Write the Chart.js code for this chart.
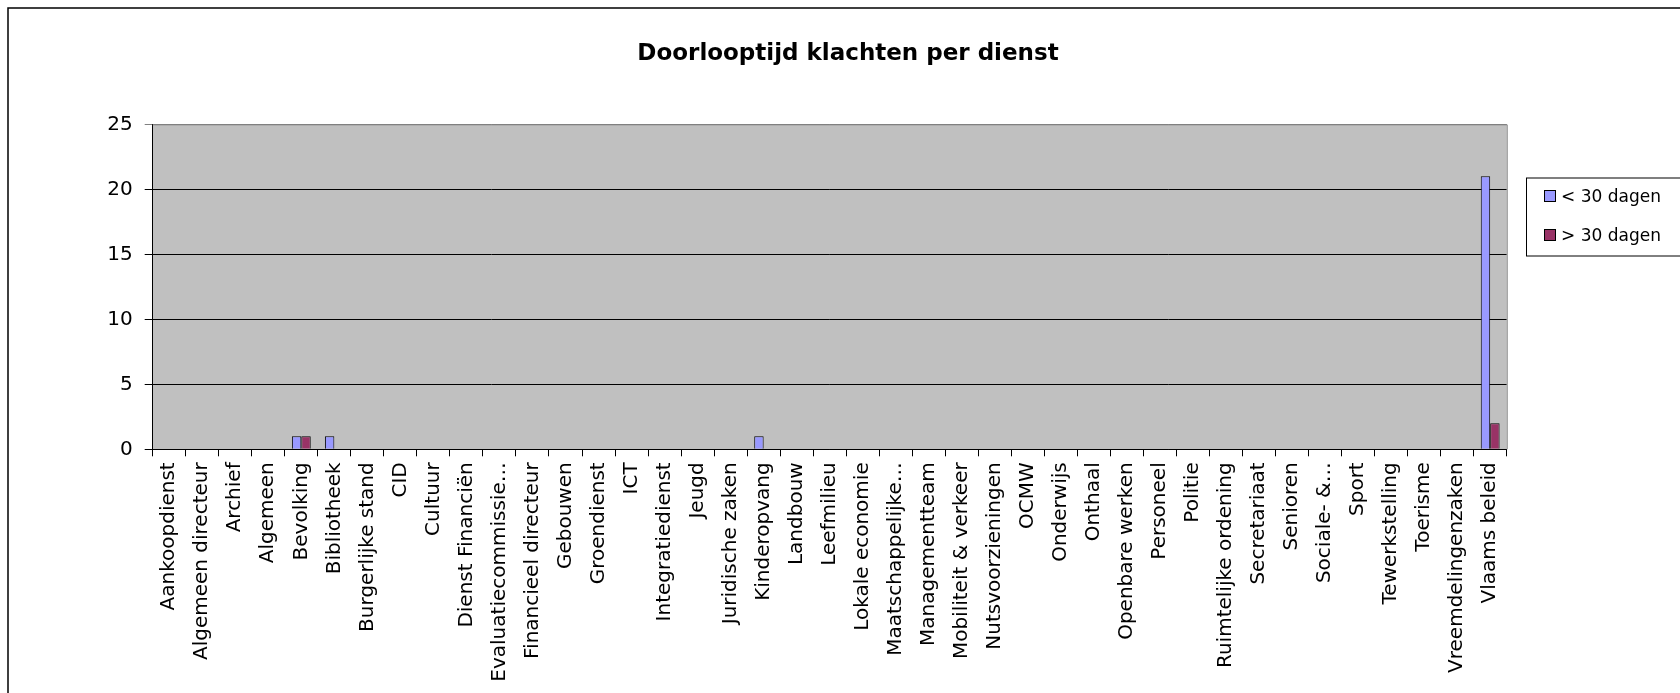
<!DOCTYPE html>
<html>
<head>
<meta charset="utf-8">
<script src="https://cdn.jsdelivr.net/npm/chart.js@4.4.0/dist/chart.umd.min.js"></script>
<style>
  html, body { margin: 0; padding: 0; background: #ffffff; }
  #wrap { width: 1680px; height: 693px; position: relative; }
</style>
</head>
<body>
<div id="wrap"><canvas id="c" width="1680" height="693"></canvas></div>
<script>
const chartTitle = "Doorlooptijd klachten per dienst";
const categories = [
  "Aankoopdienst", "Algemeen directeur", "Archief", "Algemeen", "Bevolking",
  "Bibliotheek", "Burgerlijke stand", "CID", "Cultuur", "Dienst Financiën",
  "Evaluatiecommissie…", "Financieel directeur", "Gebouwen", "Groendienst", "ICT",
  "Integratiedienst", "Jeugd", "Juridische zaken", "Kinderopvang", "Landbouw",
  "Leefmilieu", "Lokale economie", "Maatschappelijke…", "Managementteam", "Mobiliteit & verkeer",
  "Nutsvoorzieningen", "OCMW", "Onderwijs", "Onthaal", "Openbare werken",
  "Personeel", "Politie", "Ruimtelijke ordening", "Secretariaat", "Senioren",
  "Sociale- &…", "Sport", "Tewerkstelling", "Toerisme", "Vreemdelingenzaken",
  "Vlaams beleid"
];
const seriesNames = ["< 30 dagen", "> 30 dagen"];
const under30 = [
  0, 0, 0, 0, 1,
  1, 0, 0, 0, 0,
  0, 0, 0, 0, 0,
  0, 0, 0, 1, 0,
  0, 0, 0, 0, 0,
  0, 0, 0, 0, 0,
  0, 0, 0, 0, 0,
  0, 0, 0, 0, 0,
  21
];
const over30 = [
  0, 0, 0, 0, 1,
  0, 0, 0, 0, 0,
  0, 0, 0, 0, 0,
  0, 0, 0, 0, 0,
  0, 0, 0, 0, 0,
  0, 0, 0, 0, 0,
  0, 0, 0, 0, 0,
  0, 0, 0, 0, 0,
  2
];
const yTicks = [0, 5, 10, 15, 20, 25];

Chart.defaults.font.family = "'DejaVu Sans', 'Noto Sans', sans-serif";
Chart.defaults.color = "#000000";

const decor = {
  id: 'decor',
  beforeDraw(chart) {
    const ctx = chart.ctx, a = chart.chartArea;
    ctx.save();
    ctx.fillStyle = '#ffffff';
    ctx.fillRect(0, 0, chart.width, chart.height);
    // outer chart border (top & left visible)
    ctx.strokeStyle = '#000000';
    ctx.lineWidth = 1.5;
    ctx.strokeRect(8, 8, chart.width + 20, chart.height + 20);
    // plot area background
    ctx.fillStyle = '#C0C0C0';
    ctx.fillRect(a.left, a.top, a.right - a.left, a.bottom - a.top);
    ctx.restore();
  },
  afterDraw(chart) {
    const ctx = chart.ctx, a = chart.chartArea;
    ctx.save();
    // plot area border top/right (gray)
    ctx.strokeStyle = '#808080';
    ctx.lineWidth = 1;
    ctx.beginPath();
    ctx.moveTo(a.left, a.top + 0.5);
    ctx.lineTo(a.right + 0.5, a.top + 0.5);
    ctx.lineTo(a.right + 0.5, a.bottom);
    ctx.stroke();
    // legend box
    const bx = 1526, by = 177.5, bw = 160, bh = 78;
    ctx.strokeStyle = '#000000';
    ctx.lineWidth = 1;
    ctx.strokeRect(bx + 0.5, by + 0.5, bw, bh);
    ctx.font = "17px 'DejaVu Sans', sans-serif";
    ctx.textBaseline = 'middle';
    ctx.textAlign = 'left';
    const rows = [196.5, 235.5];
    chart.data.datasets.forEach((ds, i) => {
      const cy = rows[i];
      ctx.fillStyle = ds.backgroundColor;
      ctx.fillRect(1544.5, cy - 6, 11, 11);
      ctx.strokeStyle = '#000000';
      ctx.strokeRect(1544.5, cy - 6, 11, 11);
      ctx.fillStyle = '#000000';
      ctx.fillText(ds.label, 1561, cy + 1);
    });
    ctx.restore();
  }
};

new Chart(document.getElementById('c'), {
  type: 'bar',
  data: {
    labels: categories,
    datasets: [
      { label: seriesNames[0], data: under30, backgroundColor: '#9999FF', borderColor: '#000000', borderWidth: 1 },
      { label: seriesNames[1], data: over30, backgroundColor: '#993366', borderColor: '#000000', borderWidth: 1 }
    ]
  },
  options: {
    responsive: false,
    animation: false,
    devicePixelRatio: 1,
    layout: { padding: { left: 16, right: 0, top: 0, bottom: 0 } },
    datasets: { bar: { categoryPercentage: 2 / 3.5, barPercentage: 1.0 } },
    plugins: {
      legend: { display: false },
      tooltip: { enabled: false },
      title: {
        display: true,
        text: chartTitle,
        color: '#000000',
        font: { size: 23, weight: 'bold', lineHeight: 1.2 },
        padding: { top: 40, bottom: 56.7 }
      }
    },
    scales: {
      x: {
        offset: true,
        grid: { display: true, drawOnChartArea: false, drawTicks: true, tickLength: 7, color: '#000000', offset: true },
        border: { display: true, color: '#000000', width: 1 },
        ticks: { autoSkip: false, maxRotation: 90, minRotation: 90, padding: 6, color: '#000000', font: { size: 20 } },
        afterFit(s) { s.height = 693 - 449.3; }
      },
      y: {
        min: 0, max: 25,
        afterBuildTicks(s) { s.ticks = yTicks.map(v => ({ value: v })); },
        grid: {
          color: (c) => (c.tick && c.tick.value === 25 ? '#808080' : '#000000'),
          lineWidth: 1, tickLength: 8, drawTicks: true
        },
        border: { display: true, color: '#000000', width: 1 },
        ticks: { padding: 12, color: '#000000', font: { size: 20 } },
        afterFit(s) { s.width = 136.7; }
      },
      yRight: {
        position: 'right',
        display: true,
        grid: { display: false, drawTicks: false },
        border: { display: false },
        ticks: { display: false },
        afterFit(s) { s.width = 173.3; }
      }
    }
  },
  plugins: [decor]
});
</script>
</body>
</html>
